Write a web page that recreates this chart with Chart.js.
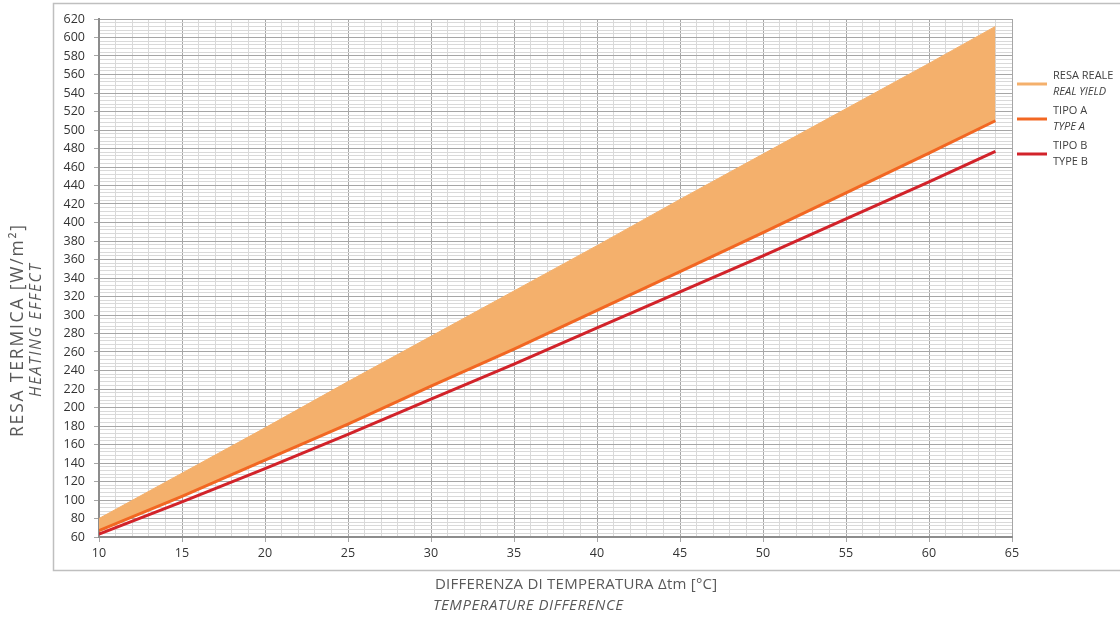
<!DOCTYPE html>
<html lang="it">
<head>
<meta charset="UTF-8">
<title>Resa termica</title>
<script src="https://cdn.jsdelivr.net/npm/chart.js"></script>
<style>
  html, body { margin: 0; padding: 0; background: #fff; }
  #chart { display: block; }
</style>
</head>
<body>
<canvas id="chart" width="1120" height="618"></canvas>
<script>
// valori
const deltaT = [10, 15, 20, 25, 30, 35, 40, 45, 50, 55, 60, 64];
const resaReale = [80, 129, 178, 228, 277, 326, 375, 425, 474, 523, 572, 612];
const tipoA = [67, 104, 143, 182, 223, 263, 305, 347, 389, 432, 475, 510];
const tipoB = [63, 98, 134, 171, 209, 247, 286, 325, 364, 404, 444, 477];

const legendItems = [
  { l1: 'RESA REALE', l2: 'REAL YIELD', italic: true, color: '#f4b06c' },
  { l1: 'TIPO A', l2: 'TYPE A', italic: true, color: '#f26722' },
  { l1: 'TIPO B', l2: 'TYPE B', italic: false, color: '#d2232a' }
];

const pts = arr => arr.map((v, i) => ({ x: deltaT[i], y: v }));
const FONT = '"Open Sans", "Liberation Sans", sans-serif';

// testo con spaziatura per raggiungere una larghezza data
function spacedText(c, text, x, y, width) {
  c.letterSpacing = '0px';
  const w = c.measureText(text).width;
  const ls = Math.max(0, (width - w) / (text.length - 1));
  c.letterSpacing = ls.toFixed(2) + 'px';
  c.fillText(text, x, y);
  c.letterSpacing = '0px';
}

const decor = {
  id: 'decor',
  afterDraw(chart) {
    const c = chart.ctx;
    c.save();
    // cornice
    c.strokeStyle = '#bfbfbf';
    c.lineWidth = 1.5;
    c.strokeRect(53.5, 3.5, 1080, 567);

    // legenda
    c.textBaseline = 'middle';
    c.textAlign = 'left';
    legendItems.forEach((it, i) => {
      const y = 84 + i * 35;
      c.strokeStyle = it.color;
      c.lineWidth = 3;
      c.beginPath();
      c.moveTo(1017, y);
      c.lineTo(1047, y);
      c.stroke();
      c.fillStyle = '#404040';
      c.font = '11px ' + FONT;
      c.fillText(it.l1, 1053, y - 8);
      c.font = (it.italic ? 'italic ' : '') + '11px ' + FONT;
      c.fillText(it.l2, 1053, y + 8);
    });

    // titolo asse x
    c.fillStyle = '#595959';
    c.font = '15px ' + FONT;
    spacedText(c, 'DIFFERENZA DI TEMPERATURA \u0394tm [\u00B0C]', 435, 585, 282);
    c.font = 'italic 15px ' + FONT;
    spacedText(c, 'TEMPERATURE DIFFERENCE', 433, 606, 190);

    // titolo asse y
    c.translate(0, 331);
    c.rotate(-Math.PI / 2);
    c.font = '17.5px ' + FONT;
    spacedText(c, 'RESA TERMICA [W/m\u00B2]', -106, 18, 212);
    c.font = 'italic 15.5px ' + FONT;
    spacedText(c, 'HEATING EFFECT', -66, 37, 133);
    c.restore();
  }
};

new Chart(document.getElementById('chart'), {
  type: 'line',
  data: {
    datasets: [
      {
        label: 'RESA REALE',
        data: pts(resaReale),
        borderColor: '#f4b06c',
        backgroundColor: '#f4b06c',
        borderWidth: 1,
        fill: '+1',
        pointRadius: 0
      },
      {
        label: 'TIPO A',
        data: pts(tipoA),
        borderColor: '#f26722',
        borderWidth: 3,
        fill: false,
        pointRadius: 0
      },
      {
        label: 'TIPO B',
        data: pts(tipoB),
        borderColor: '#d2232a',
        borderWidth: 3,
        fill: false,
        pointRadius: 0
      }
    ]
  },
  options: {
    responsive: false,
    animation: false,
    layout: { padding: { left: 53, right: 108, top: 19, bottom: 47 } },
    plugins: {
      legend: { display: false },
      tooltip: { enabled: false },
      filler: { drawTime: 'beforeDatasetsDraw' }
    },
    scales: {
      x: {
        type: 'linear',
        min: 10,
        max: 65,
        afterFit(s) { s.height = 34; },
        ticks: {
          stepSize: 1,
          autoSkip: false,
          maxRotation: 0,
          padding: 4,
          color: '#333333',
          font: { family: FONT, size: 12.5 },
          callback: v => (v % 5 === 0 ? v : '')
        },
        grid: {
          color: ctx => (ctx.tick && ctx.tick.value % 5 === 0 ? '#a6a6a6' : '#d9d9d9'),
          tickColor: ctx => (ctx.tick && ctx.tick.value % 5 === 0 ? '#a6a6a6' : 'rgba(0,0,0,0)'),
          tickLength: 5
        },
        border: { color: '#8c8c8c', width: 2 }
      },
      y: {
        min: 60,
        max: 620,
        afterFit(s) { s.width = 46; },
        ticks: {
          stepSize: 4,
          autoSkip: false,
          padding: 9,
          color: '#333333',
          font: { family: FONT, size: 12.5 },
          callback: v => (v % 20 === 0 ? v : '')
        },
        grid: {
          color: ctx => (ctx.tick && ctx.tick.value % 20 === 0 ? '#a6a6a6' : '#d9d9d9'),
          tickColor: ctx => (ctx.tick && ctx.tick.value % 20 === 0 ? '#a6a6a6' : 'rgba(0,0,0,0)'),
          tickLength: 5
        },
        border: { color: '#8c8c8c', width: 2 }
      }
    }
  },
  plugins: [decor]
});
</script>
</body>
</html>
